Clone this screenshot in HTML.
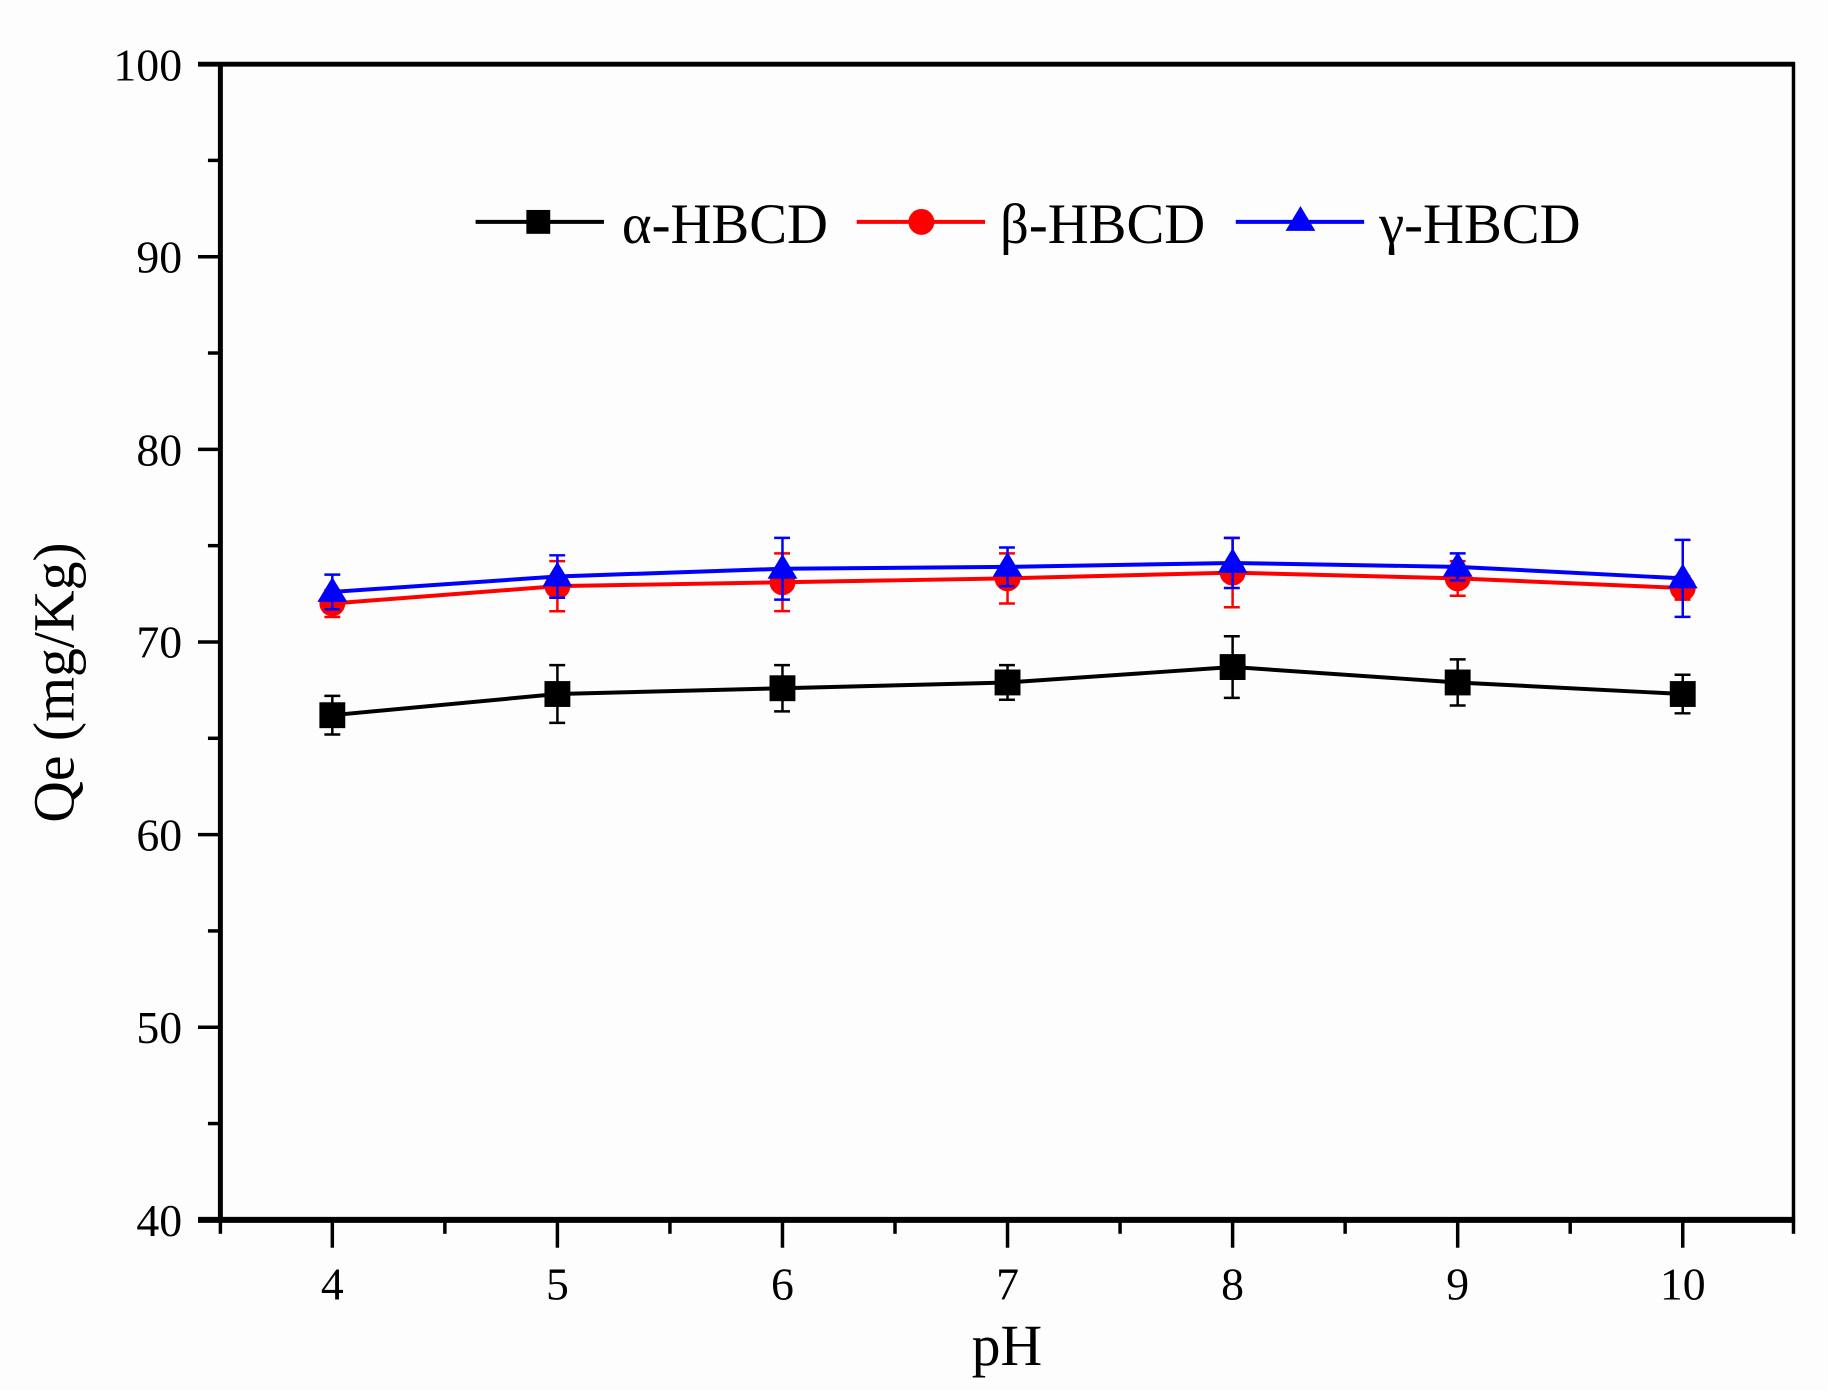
<!DOCTYPE html>
<html><head><meta charset="utf-8"><style>
html,body{margin:0;padding:0;background:#fdfdfd;}
svg{display:block;}
text{font-family:"Liberation Serif",serif;fill:#000;}
</style></head><body>
<svg width="1828" height="1391" viewBox="0 0 1828 1391" xmlns="http://www.w3.org/2000/svg">
<rect width="1828" height="1391" fill="#fdfdfd"/>
<g transform="scale(0.995)">
<rect x="221.5" y="64.5" width="1581" height="1161.5" fill="none" stroke="#000" stroke-width="3.5"/>
<line x1="199" y1="1226" x2="1804" y2="1226" stroke="#000" stroke-width="6"/>
<line x1="199" y1="64.5" x2="1804" y2="64.5" stroke="#000" stroke-width="5"/>
<line x1="221.5" y1="64" x2="221.5" y2="1228" stroke="#000" stroke-width="5"/>
<g stroke="#000" stroke-width="3.5">
<line x1="199" y1="1032.4" x2="221" y2="1032.4"/>
<line x1="199" y1="838.8" x2="221" y2="838.8"/>
<line x1="199" y1="645.2" x2="221" y2="645.2"/>
<line x1="199" y1="451.6" x2="221" y2="451.6"/>
<line x1="199" y1="258" x2="221" y2="258"/>
<line x1="209" y1="1129.2" x2="221" y2="1129.2"/>
<line x1="209" y1="935.6" x2="221" y2="935.6"/>
<line x1="209" y1="742" x2="221" y2="742"/>
<line x1="209" y1="548.4" x2="221" y2="548.4"/>
<line x1="209" y1="354.8" x2="221" y2="354.8"/>
<line x1="209" y1="161.2" x2="221" y2="161.2"/>
<line x1="334" y1="1226" x2="334" y2="1254"/>
<line x1="560.2" y1="1226" x2="560.2" y2="1254"/>
<line x1="786.4" y1="1226" x2="786.4" y2="1254"/>
<line x1="1012.6" y1="1226" x2="1012.6" y2="1254"/>
<line x1="1238.8" y1="1226" x2="1238.8" y2="1254"/>
<line x1="1465" y1="1226" x2="1465" y2="1254"/>
<line x1="1691.2" y1="1226" x2="1691.2" y2="1254"/>
<line x1="221.5" y1="1226" x2="221.5" y2="1240"/>
<line x1="447.1" y1="1226" x2="447.1" y2="1240"/>
<line x1="673.3" y1="1226" x2="673.3" y2="1240"/>
<line x1="899.5" y1="1226" x2="899.5" y2="1240"/>
<line x1="1125.7" y1="1226" x2="1125.7" y2="1240"/>
<line x1="1351.9" y1="1226" x2="1351.9" y2="1240"/>
<line x1="1578.1" y1="1226" x2="1578.1" y2="1240"/>
<line x1="1802.5" y1="1226" x2="1802.5" y2="1240"/>
</g>
<g font-size="46" text-anchor="end">
<text x="183" y="1242">40</text>
<text x="183" y="1048">50</text>
<text x="183" y="855">60</text>
<text x="183" y="661">70</text>
<text x="183" y="468">80</text>
<text x="183" y="274">90</text>
<text x="183" y="81">100</text>
</g>
<g font-size="46" text-anchor="middle">
<text x="334" y="1306">4</text>
<text x="560.2" y="1306">5</text>
<text x="786.4" y="1306">6</text>
<text x="1012.6" y="1306">7</text>
<text x="1238.8" y="1306">8</text>
<text x="1465" y="1306">9</text>
<text x="1691.2" y="1306">10</text>
</g>
<text x="1012" y="1372" font-size="58" text-anchor="middle">pH</text>
<text transform="translate(74,686) rotate(-90)" font-size="58" text-anchor="middle">Qe (mg/Kg)</text>

<g stroke="#000" stroke-width="2.5">
<path d="M334 699.4V738.2M326 699.4H342M326 738.2H342"/>
<path d="M560.2 668.5V726.5M552 668.5H568M552 726.5H568"/>
<path d="M786.4 668.5V714.9M778 668.5H794M778 714.9H794"/>
<path d="M1012.6 668.5V703.3M1004 668.5H1020M1004 703.3H1020"/>
<path d="M1238.8 639.4V701.4M1230 639.4H1246M1230 701.4H1246"/>
<path d="M1465 662.7V709.1M1457 662.7H1473M1457 709.1H1473"/>
<path d="M1691.2 678.1V716.9M1683 678.1H1699M1683 716.9H1699"/>
</g>
<polyline points="334,718.8 560.2,697.5 786.4,691.7 1012.6,685.9 1238.8,670.4 1465,685.9 1691.2,697.5" fill="none" stroke="#000" stroke-width="4"/>
<g fill="#000">
<rect x="321" y="705.8" width="26" height="26"/>
<rect x="547.2" y="684.5" width="26" height="26"/>
<rect x="773.4" y="678.7" width="26" height="26"/>
<rect x="999.6" y="672.9" width="26" height="26"/>
<rect x="1225.8" y="657.4" width="26" height="26"/>
<rect x="1452" y="672.9" width="26" height="26"/>
<rect x="1678.2" y="684.5" width="26" height="26"/>
</g>

<g stroke="#f00" stroke-width="2.5">
<path d="M334 592.9V620.1M326 592.9H342M326 620.1H342"/>
<path d="M560.2 563.9V614.3M552 563.9H568M552 614.3H568"/>
<path d="M786.4 556.2V614.2M778 556.2H794M778 614.2H794"/>
<path d="M1012.6 556.1V606.5M1004 556.1H1020M1004 606.5H1020"/>
<path d="M1238.8 540.7V610.3M1230 540.7H1246M1230 610.3H1246"/>
<path d="M1465 563.9V598.7M1457 563.9H1473M1457 598.7H1473"/>
<path d="M1691.2 579.4V602.6M1683 579.4H1699M1683 602.6H1699"/>
</g>
<polyline points="334,606.5 560.2,589.1 786.4,585.2 1012.6,581.3 1238.8,575.5 1465,581.3 1691.2,591" fill="none" stroke="#f00" stroke-width="4"/>
<g fill="#f00">
<circle cx="334" cy="606.5" r="13"/>
<circle cx="560.2" cy="589.1" r="13"/>
<circle cx="786.4" cy="585.2" r="13"/>
<circle cx="1012.6" cy="581.3" r="13"/>
<circle cx="1238.8" cy="575.5" r="13"/>
<circle cx="1465" cy="581.3" r="13"/>
<circle cx="1691.2" cy="591" r="13"/>
</g>

<g stroke="#00f" stroke-width="2.5">
<path d="M334 577.5V612.3M326 577.5H342M326 612.3H342"/>
<path d="M560.2 558.1V600.7M552 558.1H568M552 600.7H568"/>
<path d="M786.4 540.6V602.6M778 540.6H794M778 602.6H794"/>
<path d="M1012.6 550.3V589.1M1004 550.3H1020M1004 589.1H1020"/>
<path d="M1238.8 540.6V591M1230 540.6H1246M1230 591H1246"/>
<path d="M1465 556.1V583.3M1457 556.1H1473M1457 583.3H1473"/>
<path d="M1691.2 542.6V620M1683 542.6H1699M1683 620H1699"/>
</g>
<polyline points="334,594.9 560.2,579.4 786.4,571.6 1012.6,569.7 1238.8,565.8 1465,569.7 1691.2,581.3" fill="none" stroke="#00f" stroke-width="4"/>
<g fill="#00f">
<polygon points="334,579.9 349,604.9 319,604.9"/>
<polygon points="560.2,564.4 575.2,589.4 545.2,589.4"/>
<polygon points="786.4,556.6 801.4,581.6 771.4,581.6"/>
<polygon points="1012.6,554.7 1027.6,579.7 997.6,579.7"/>
<polygon points="1238.8,550.8 1253.8,575.8 1223.8,575.8"/>
<polygon points="1465,554.7 1480,579.7 1450,579.7"/>
<polygon points="1691.2,566.3 1706.2,591.3 1676.2,591.3"/>
</g>

<line x1="478" y1="223" x2="607" y2="223" stroke="#000" stroke-width="4"/>
<rect x="529" y="211" width="24" height="24" fill="#000"/>
<text x="625" y="244" font-size="57">α-HBCD</text>
<line x1="861" y1="223" x2="990" y2="223" stroke="#f00" stroke-width="4"/>
<circle cx="926" cy="223" r="13" fill="#f00"/>
<text x="1005" y="244" font-size="57">β-HBCD</text>
<line x1="1242" y1="223" x2="1371" y2="223" stroke="#00f" stroke-width="4"/>
<polygon points="1307,207 1322,232 1292,232" fill="#00f"/>
<text x="1386" y="244" font-size="57">γ-HBCD</text>
</g>
</svg>
</body></html>
